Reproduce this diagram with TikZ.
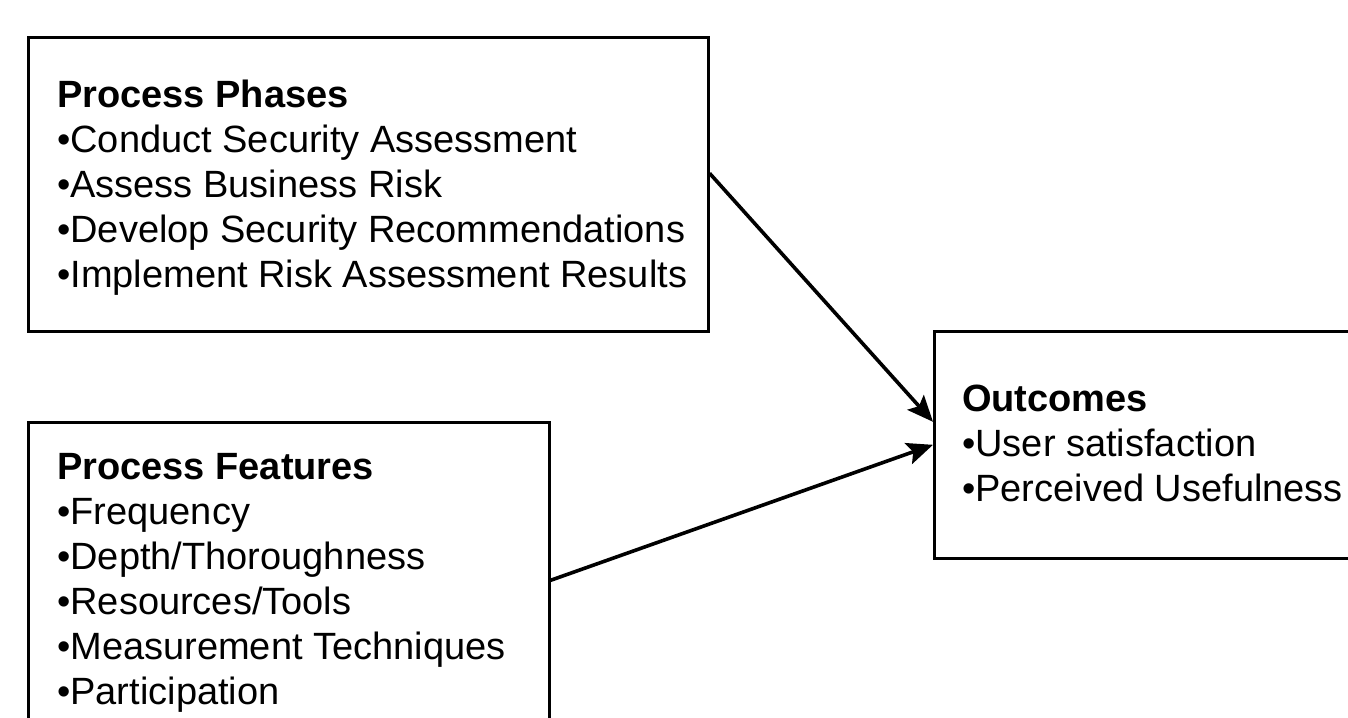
\documentclass[tikz,border=0pt]{standalone}
\usepackage{fontspec}
\setmainfont{Liberation Sans}
\usetikzlibrary{arrows.meta}
\begin{document}
\begin{tikzpicture}[x=1pt,y=1pt,
  boxshape/.style={draw=black, line width=2.6pt, rectangle, inner sep=0pt, anchor=north west},
  txt/.style={anchor=north west, inner sep=0pt, align=left, font={\fontsize{38}{45}\selectfont}},
  conn/.style={line width=3.6pt, -{Stealth[length=26pt,width=22pt,inset=5pt]}}]
\clip (0,0) rectangle (1348,-717);
\fill[white] (0,0) rectangle (1348,-717);
\node[boxshape, minimum width=680pt, minimum height=294pt] (phases) at (27,-36) {};
\node[boxshape, minimum width=521pt, minimum height=316pt] (features) at (27,-421) {};
\node[boxshape, minimum width=440pt, minimum height=227pt] (outcomes) at (933,-330) {};
\node[txt] (tphases) at (57,-80) {\textbf{Process Phases}\\•Conduct Security Assessment\\•Assess Business Risk\\•Develop Security Recommendations\\•Implement Risk Assessment Results};
\node[txt] (tfeatures) at (57,-453) {\textbf{Process Features}\\•Frequency\\•Depth/Thoroughness\\•Resources/Tools\\•Measurement Techniques\\•Participation};
\node[txt] (toutcomes) at (962,-385) {\textbf{Outcomes}\\•User satisfaction\\•Perceived Usefulness};
\draw[conn] ([yshift=11pt]phases.east) -- ([yshift=23pt]outcomes.west);
\draw[conn] (features.east) -- (outcomes.west);
\end{tikzpicture}
\end{document}
